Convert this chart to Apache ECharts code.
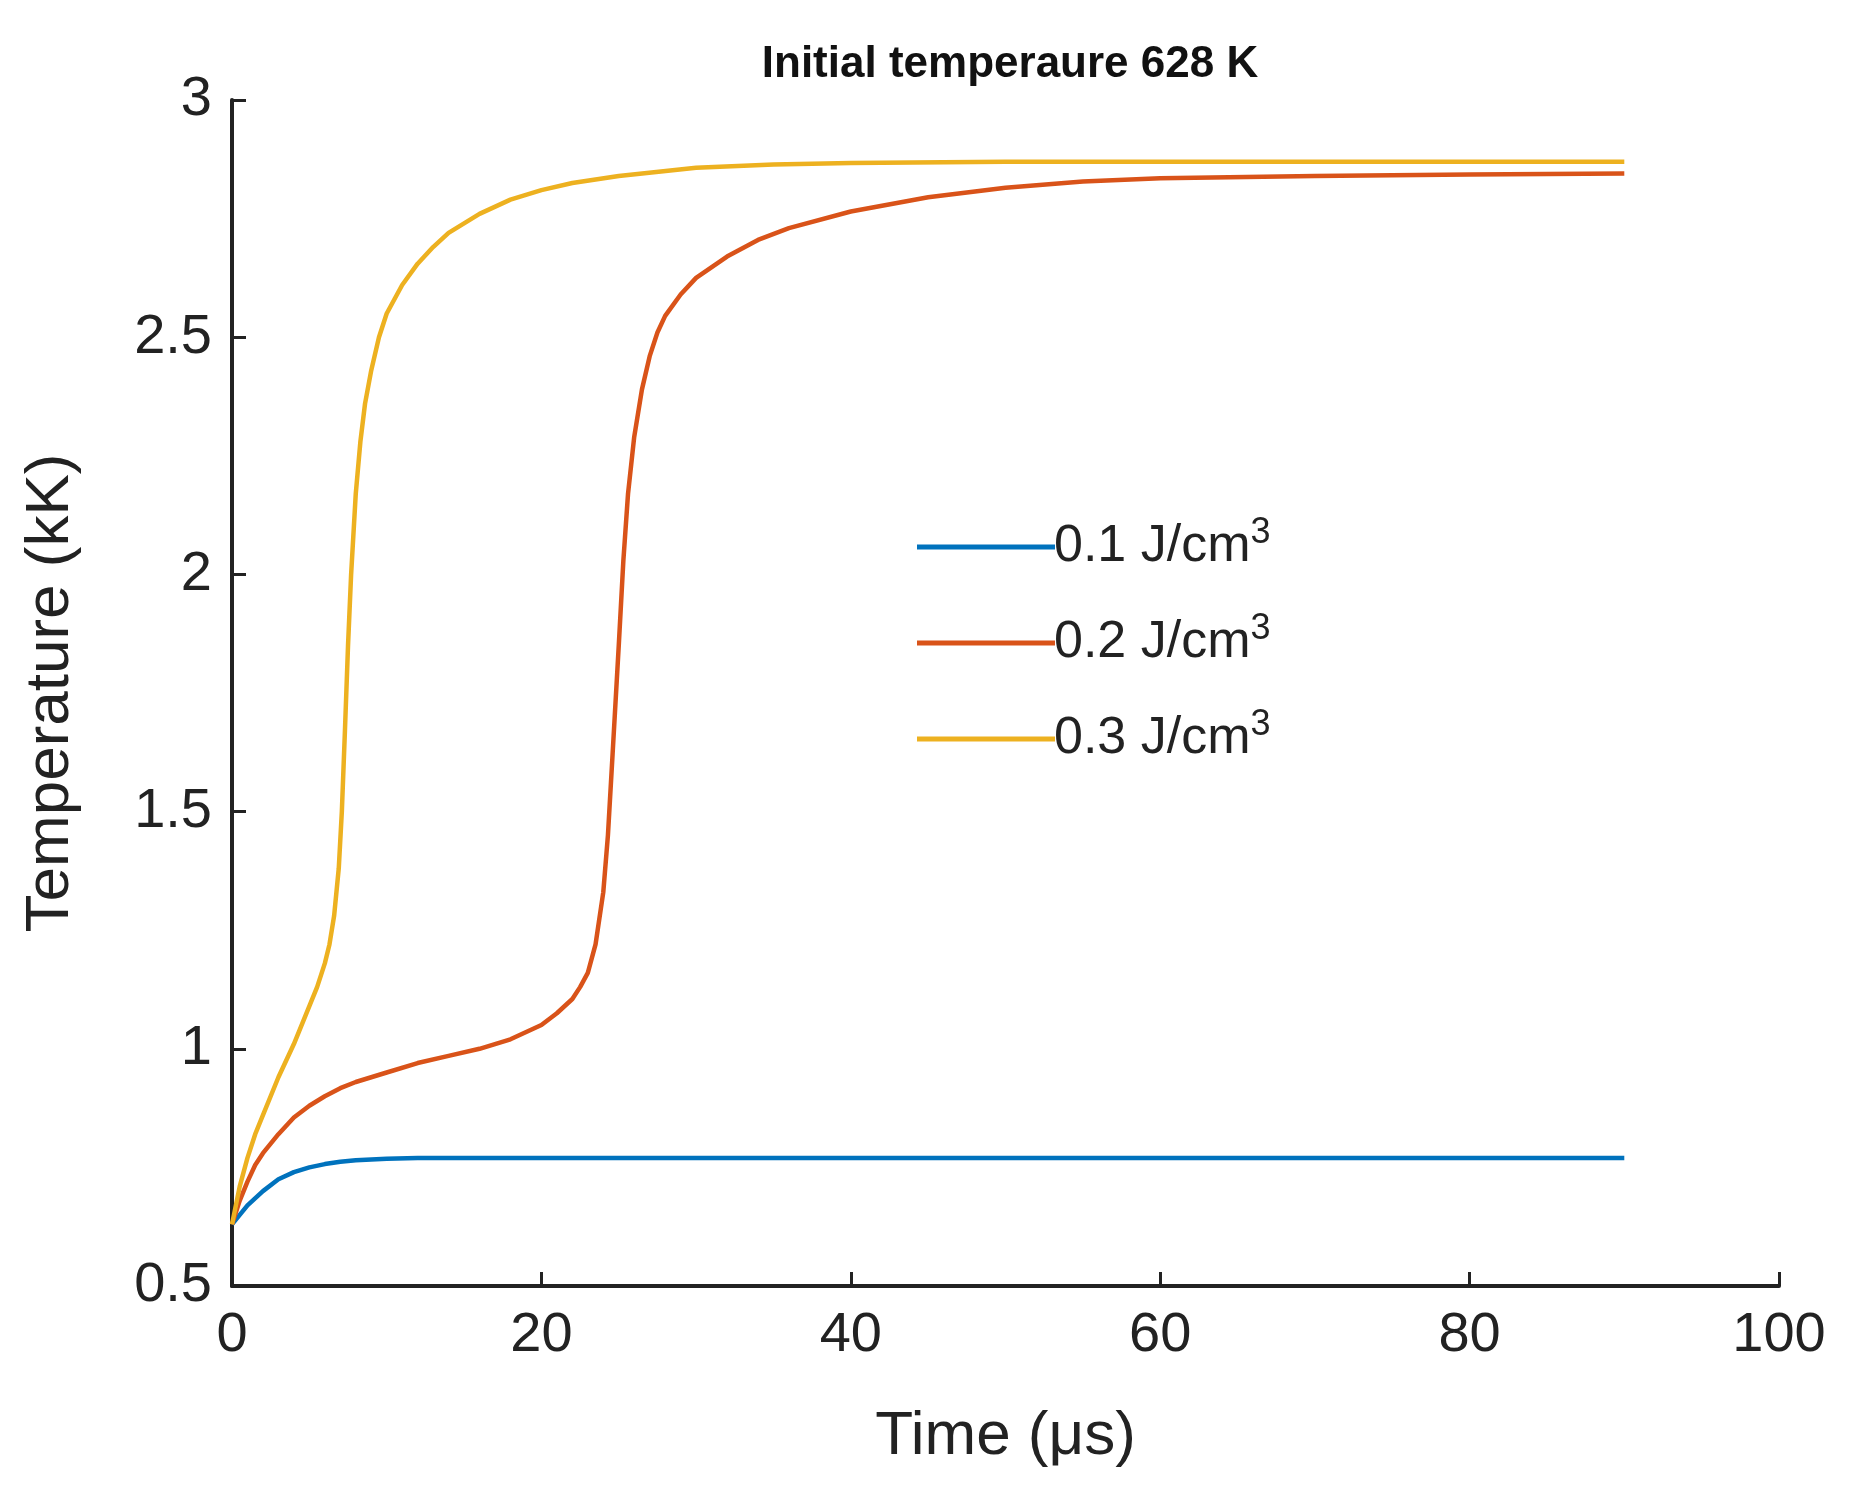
<!DOCTYPE html>
<html><head><meta charset="utf-8">
<script src="https://cdn.jsdelivr.net/npm/echarts@6/dist/echarts.min.js"></script>
<style>html,body{margin:0;background:#fff}#c{width:1866px;height:1492px}</style>
</head><body><div id="c"></div>
<script>
const seriesNames = ['0.1 J/cm3', '0.2 J/cm3', '0.3 J/cm3'];
const colors = ['#0072BD', '#D95319', '#EDB120'];

const blueT = [0, 1, 2, 3, 4, 5, 6, 7, 8, 10, 12, 15, 20, 40, 60, 90];
const blueV = [0.63, 0.67, 0.70, 0.725, 0.74, 0.75, 0.757, 0.762, 0.765, 0.768, 0.77, 0.77, 0.77, 0.77, 0.77, 0.77];

const redT = [0, 0.5, 1, 1.5, 2, 3, 4, 5, 6, 7, 8, 10, 12, 14, 16, 18, 20, 21, 22, 22.5, 23, 23.5, 24, 24.3, 24.6, 25, 25.3, 25.6, 26, 26.5, 27, 27.5, 28, 29, 30, 32, 34, 36, 40, 45, 50, 55, 60, 70, 80, 90];
const redV = [0.63, 0.68, 0.72, 0.755, 0.78, 0.82, 0.855, 0.88, 0.90, 0.917, 0.93, 0.95, 0.97, 0.985, 1.00, 1.02, 1.05, 1.075, 1.105, 1.13, 1.16, 1.22, 1.33, 1.45, 1.62, 1.85, 2.03, 2.17, 2.29, 2.39, 2.46, 2.51, 2.545, 2.59, 2.625, 2.67, 2.705, 2.73, 2.765, 2.795, 2.815, 2.828, 2.835, 2.84, 2.843, 2.845];

const yellowT = [0, 0.5, 1, 1.5, 2, 3, 4, 5, 5.5, 6, 6.3, 6.6, 6.9, 7.1, 7.3, 7.5, 7.7, 8, 8.3, 8.6, 9, 9.5, 10, 11, 12, 13, 14, 16, 18, 20, 22, 25, 30, 35, 40, 50, 60, 90];
const yellowV = [0.63, 0.71, 0.77, 0.82, 0.86, 0.94, 1.01, 1.09, 1.13, 1.18, 1.22, 1.28, 1.38, 1.5, 1.67, 1.85, 2.0, 2.17, 2.28, 2.36, 2.43, 2.5, 2.55, 2.61, 2.655, 2.69, 2.72, 2.76, 2.79, 2.81, 2.825, 2.84, 2.857, 2.864, 2.867, 2.87, 2.87, 2.87];

const toPairs = (t, v) => t.map((x, i) => [x, v[i]]);
const data = [toPairs(blueT, blueV), toPairs(redT, redV), toPairs(yellowT, yellowV)];

const font = 'Liberation Sans, Arial, sans-serif';
const chart = echarts.init(document.getElementById('c'));
chart.setOption({
    animation: false,
    title: {
        text: 'Initial temperaure 628 K', left: 1005, top: 38, textAlign: 'center',
        textStyle: { fontFamily: font, fontSize: 44, fontWeight: 'bold', color: '#111' }
    },
    grid: { left: 232, right: 87, top: 100, bottom: 206 },
    legend: {
        orient: 'vertical', left: 912, top: 510, itemWidth: 138, itemHeight: 5, itemGap: 38,
        icon: 'rect',
        data: seriesNames,
        formatter: n => n.replace('cm3', 'cm{sup|3}'),
        textStyle: {
            fontFamily: font, fontSize: 52, color: '#222', padding: [0, 0, 0, -6],
            rich: { sup: { fontFamily: font, fontSize: 36, color: '#222', verticalAlign: 'top', padding: [0, 0, 28, 0] } }
        }
    },
    xAxis: {
        type: 'value', min: 0, max: 100, interval: 20,
        name: 'Time (μs)', nameLocation: 'middle', nameGap: 120,
        nameTextStyle: { fontFamily: font, fontSize: 62, color: '#222' },
        axisLine: { onZero: false, lineStyle: { color: '#222', width: 4 } },
        axisTick: { inside: true, length: 14, lineStyle: { color: '#222', width: 3 } },
        axisLabel: { fontFamily: font, fontSize: 56, color: '#222', margin: 22 },
        splitLine: { show: false }
    },
    yAxis: {
        type: 'value', min: 0.5, max: 3, interval: 0.5,
        name: 'Temperature (kK)', nameLocation: 'middle', nameGap: 150,
        nameTextStyle: { fontFamily: font, fontSize: 62, color: '#222' },
        axisLine: { show: true, lineStyle: { color: '#222', width: 4 } },
        axisTick: { show: true, inside: true, length: 14, lineStyle: { color: '#222', width: 3 } },
        axisLabel: { fontFamily: font, fontSize: 56, color: '#222', margin: 20, formatter: v => String(v) },
        splitLine: { show: false }
    },
    series: seriesNames.map((name, i) => ({
        name: name, type: 'line', data: data[i], showSymbol: false,
        smooth: false, color: colors[i],
        lineStyle: { width: 4.5, color: colors[i] }
    }))
});
</script></body></html>
